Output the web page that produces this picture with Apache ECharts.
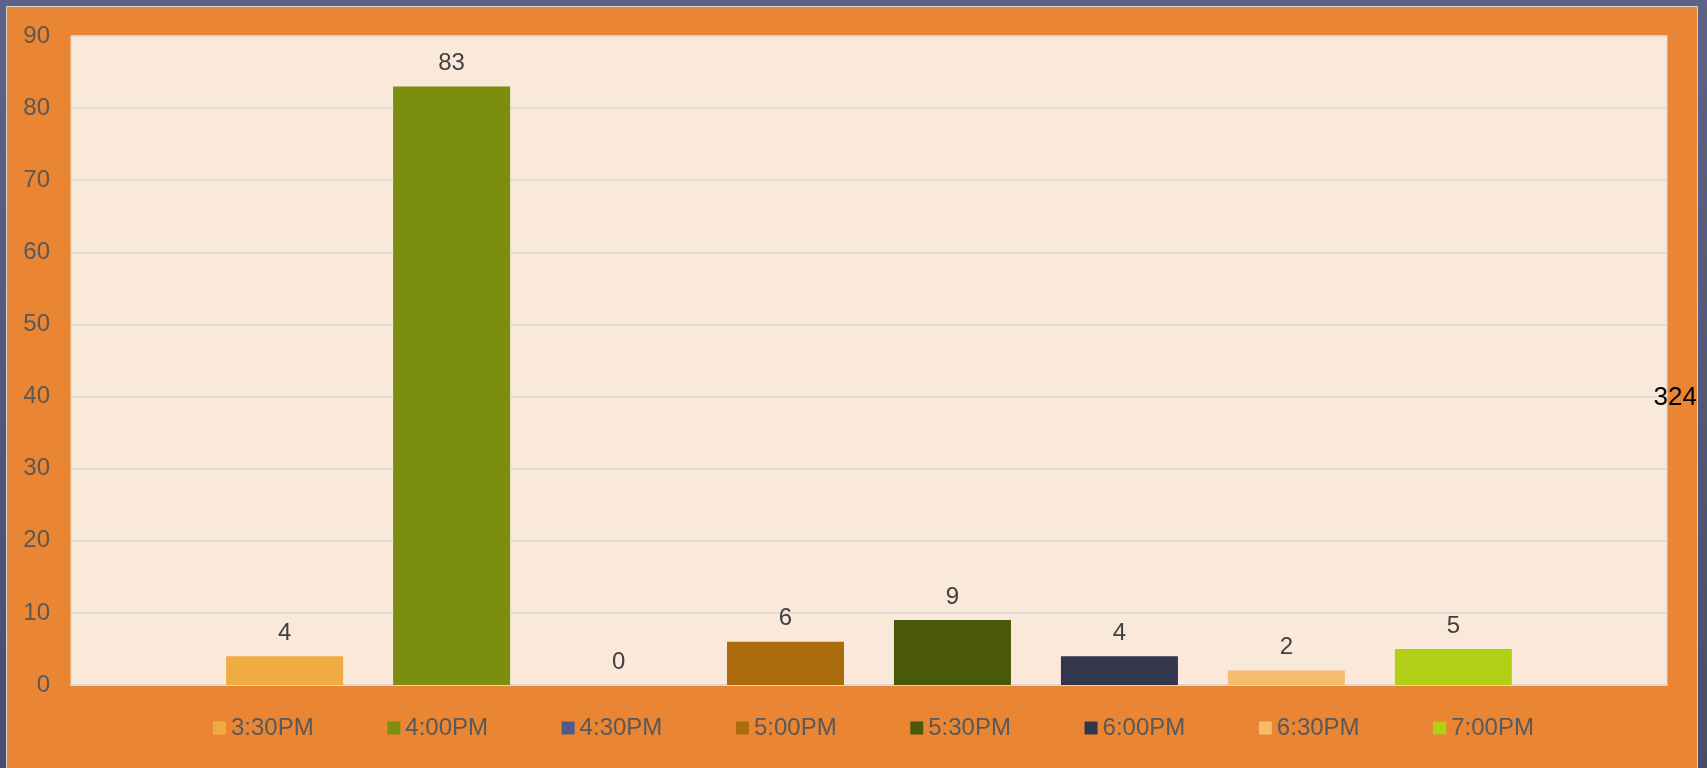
<!DOCTYPE html>
<html>
<head>
<meta charset="utf-8">
<script src="https://cdn.jsdelivr.net/npm/echarts@6/dist/echarts.min.js"></script>
<style>
  html, body { margin: 0; padding: 0; width: 1707px; height: 768px; overflow: hidden;
    background: linear-gradient(to bottom, #5d6386, #484d70); }
  #frame { position: absolute; left: 6px; top: 6px; width: 1690px; height: 800px;
    background: #ea8534; border: 1px solid #d6d6d6; }
  #chart { position: absolute; left: 0; top: 0; width: 1707px; height: 768px; }
</style>
</head>
<body>
<div id="frame"></div>
<div id="chart"></div>
<script>
const seriesNames = ['3:30PM', '4:00PM', '4:30PM', '5:00PM', '5:30PM', '6:00PM', '6:30PM', '7:00PM'];
const seriesValues = [4, 83, 0, 6, 9, 4, 2, 5];
const seriesColors = ['#f0ac42', '#7b8e0f', '#525b86', '#ab6b0d', '#4a5908', '#33374d', '#f3bd6c', '#b2cf17'];
const categories = [''];
const yTicks = { min: 0, max: 90, interval: 10 };
const sideNote = '324';

const chart = echarts.init(document.getElementById('chart'), null, { renderer: 'canvas' });
const font = '"Liberation Sans", Arial, sans-serif';

const series = seriesNames.map((name, i) => ({
  name: name,
  type: 'bar',
  data: [seriesValues[i]],
  barWidth: 117,
  barGap: '42.7%',
  itemStyle: { color: seriesColors[i] },
  label: {
    show: true,
    position: 'top',
    distance: 11,
    color: '#404040',
    fontSize: 24,
    fontFamily: font
  }
}));

chart.setOption({
  backgroundColor: 'transparent',
  animation: false,
  grid: {
    left: 71, right: 40, top: 36, bottom: 83,
    show: true,
    backgroundColor: '#fae8d8',
    borderColor: '#d9d9d9',
    borderWidth: 1
  },
  legend: {
    left: 208,
    top: 711,
    itemWidth: 13,
    itemHeight: 13,
    itemGap: 73.6,
    icon: 'rect',
    textStyle: { color: '#595959', fontSize: 24, fontFamily: font },
    data: seriesNames
  },
  xAxis: {
    type: 'category',
    data: categories,
    axisLine: { show: true, lineStyle: { color: '#d9d9d9', width: 2 } },
    axisTick: { show: false },
    axisLabel: { show: false },
    splitLine: { show: false }
  },
  yAxis: {
    type: 'value',
    min: yTicks.min,
    max: yTicks.max,
    interval: yTicks.interval,
    axisLine: { show: false },
    axisTick: { show: false },
    axisLabel: { color: '#595959', fontSize: 24, fontFamily: font, margin: 21 },
    splitLine: { show: true, lineStyle: { color: '#d9dadd', width: 1.5 } }
  },
  graphic: [{
    type: 'text',
    right: 10,
    top: 385,
    style: {
      text: sideNote,
      fill: '#000000',
      font: '26px ' + font
    },
    z: 100
  }],
  series: series
});
</script>
</body>
</html>
